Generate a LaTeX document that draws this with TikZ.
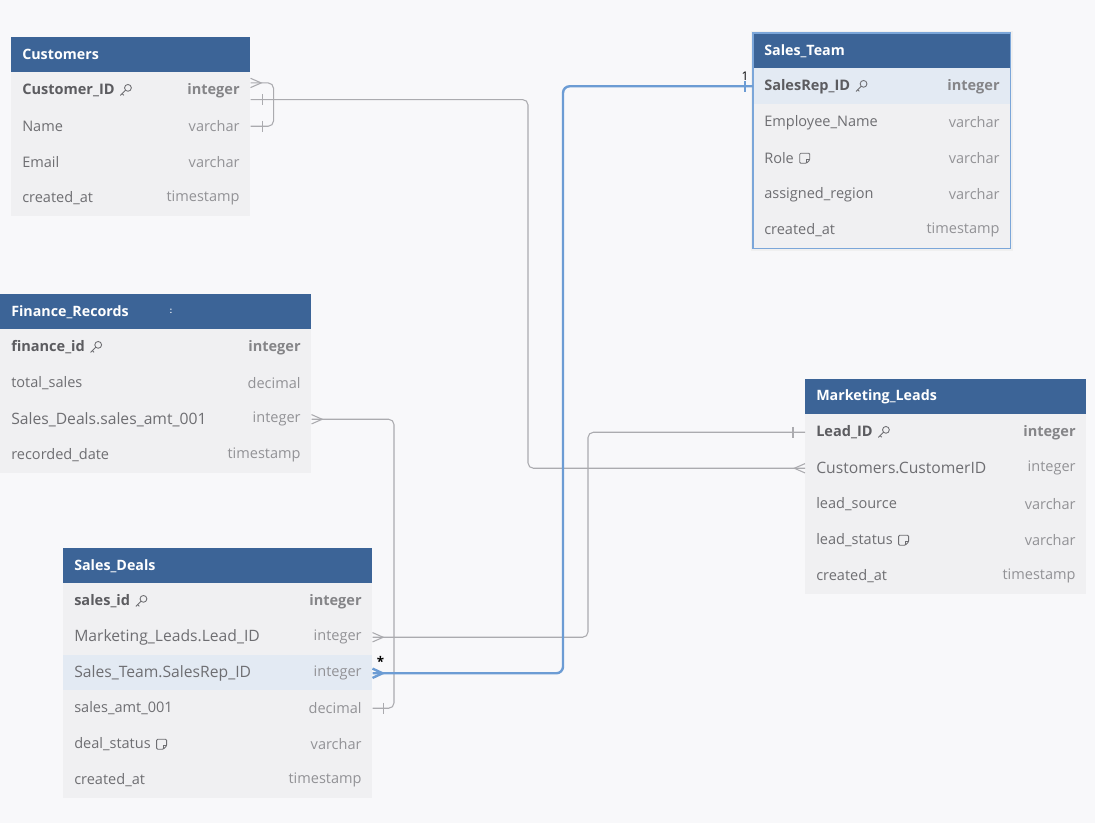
\documentclass[tikz,border=0pt]{standalone}
\usepackage{fontspec}
\setmainfont{Open Sans}
\usetikzlibrary{calc}
\definecolor{bg}{HTML}{F8F8FA}
\definecolor{hdrc}{HTML}{3C6497}
\definecolor{rowc}{HTML}{F0F0F2}
\definecolor{hlc}{HTML}{E3EAF3}
\definecolor{fldc}{HTML}{6E6E72}
\definecolor{pkc}{HTML}{5C5C60}
\definecolor{typc}{HTML}{929296}
\definecolor{linec}{HTML}{ABABAF}
\definecolor{bluec}{HTML}{6C9CD4}
\definecolor{selc}{HTML}{7BA6D9}
\tikzset{
  hdrbox/.style={fill=hdrc, draw=none, inner sep=0pt, minimum height=26.25pt},
  hdrtxt/.style={text=white, font=\fontsize{10.7}{13}\selectfont\bfseries, inner sep=0pt},
  rowbox/.style={draw=none, inner sep=0pt, minimum height=27pt},
  fld/.style={text=fldc, font=\fontsize{10.9}{12}\selectfont, inner sep=0pt},
  typ/.style={text=typc, font=\fontsize{10.9}{12}\selectfont, inner sep=0pt},
  icon/.style={draw=fldc, line width=0.65pt},
  conn/.style={draw=linec, line width=0.8pt, rounded corners=4pt},
  endmark/.style={draw=linec, line width=0.8pt},
  bconn/.style={draw=bluec, line width=1.8pt, rounded corners=5pt},
  bendmark/.style={draw=bluec, line width=1.8pt},
  keyic/.pic={\draw[icon] (2.4,-2.4) circle (3.4); \draw[icon] (0,0) -- (-5.2,5.2); \draw[icon] (-3.4,3.4) -- (-1.8,5);},
  noteic/.pic={\draw[icon, rounded corners=0.8pt] (-5,-5) -- (5,-5) -- (5,1.6) -- (1.6,5) -- (-5,5) -- cycle; \draw[icon] (5,1.6) -- (1.6,1.6) -- (1.6,5);}
}
\newcommand\tblhead[5]{%
  \node[hdrbox, minimum width=#4*0.75pt, anchor=north west] (#1) at (#2,#3) {};
  \node[hdrtxt, anchor=west] (#1t) at ([xshift=8.25pt]#1.west) {#5};}
\newcommand\tblrow[7]{%
  \node[rowbox, fill=#7, minimum width=#4*0.75pt, anchor=north west] (#1) at (#2,#3) {};
  \node[fld, anchor=west] (#1f) at ([xshift=8.25pt]#1.west) {#5};
  \node[typ, anchor=east] (#1y) at ([xshift=-8pt]#1.east) {#6};}
\newcommand\pk[1]{\textcolor{pkc}{\bfseries #1}}
\newcommand\pkt[1]{\textcolor{pkc!75}{\bfseries #1}}
\newcommand\fk[1]{{\fontsize{11.75}{14}\selectfont #1}}
\begin{document}
\begin{tikzpicture}[x=0.75pt,y=-0.75pt]
\useasboundingbox[fill=bg] (0,0) rectangle (1095,823);

% Customers
\tblhead{cust}{11}{37}{239}{Customers}
\tblrow{cust1}{11}{72}{239}{\pk{Customer\_ID}}{\pkt{integer}}{rowc}
\tblrow{cust2}{11}{108}{239}{Name}{varchar}{rowc}
\tblrow{cust3}{11}{144}{239}{Email}{varchar}{rowc}
\tblrow{cust4}{11}{180}{239}{created\_at}{timestamp}{rowc}
\pic at ([xshift=8pt]cust1f.east) {keyic};

% Sales_Team
\fill[black!6] (751,31) rectangle (1013,251);
\tblhead{st}{753}{33}{257}{Sales\_Team}
\tblrow{st1}{753}{68}{257}{\pk{SalesRep\_ID}}{\pkt{integer}}{hlc}
\tblrow{st2}{753}{104}{257}{Employee\_Name}{varchar}{rowc}
\tblrow{st3}{753}{140}{257}{Role}{varchar}{rowc}
\tblrow{st4}{753}{176}{257}{assigned\_region}{varchar}{rowc}
\tblrow{st5}{753}{212}{257}{created\_at}{timestamp}{rowc}
\draw[selc, line width=1.1pt] (st.north west) rectangle (st5.south east);
\pic at ([xshift=8pt]st1f.east) {keyic};
\pic at ([xshift=8pt]st3f.east) {noteic};

% Finance_Records
\tblhead{fin}{0}{294}{311}{Finance\_Records}
\node[text=white, font=\fontsize{6}{7}\selectfont\bfseries, inner sep=0pt] (finh) at (171,311) {:};
\tblrow{fin1}{0}{329}{311}{\pk{finance\_id}}{\pkt{integer}}{rowc}
\tblrow{fin2}{0}{365}{311}{total\_sales}{decimal}{rowc}
\tblrow{fin3}{0}{401}{311}{\fk{Sales\_Deals.sales\_amt\_001}}{integer}{rowc}
\tblrow{fin4}{0}{437}{311}{recorded\_date}{timestamp}{rowc}
\pic at ([xshift=8pt]fin1f.east) {keyic};

% Marketing_Leads
\tblhead{ml}{805}{379}{281}{Marketing\_Leads}
\tblrow{ml1}{805}{414}{281}{\pk{Lead\_ID}}{\pkt{integer}}{rowc}
\tblrow{ml2}{805}{450}{281}{\fk{Customers.CustomerID}}{integer}{rowc}
\tblrow{ml3}{805}{486}{281}{lead\_source}{varchar}{rowc}
\tblrow{ml4}{805}{522}{281}{lead\_status}{varchar}{rowc}
\tblrow{ml5}{805}{558}{281}{created\_at}{timestamp}{rowc}
\pic at ([xshift=8pt]ml1f.east) {keyic};
\pic at ([xshift=8pt]ml4f.east) {noteic};

% Sales_Deals
\tblhead{sd}{63}{548}{309}{Sales\_Deals}
\tblrow{sd1}{63}{583}{309}{\pk{sales\_id}}{\pkt{integer}}{rowc}
\tblrow{sd2}{63}{619}{309}{\fk{Marketing\_Leads.Lead\_ID}}{integer}{rowc}
\tblrow{sd3}{63}{655}{309}{\fk{Sales\_Team.SalesRep\_ID}}{integer}{hlc}
\tblrow{sd4}{63}{690}{309}{sales\_amt\_001}{decimal}{rowc}
\tblrow{sd5}{63}{726}{309}{deal\_status}{varchar}{rowc}
\tblrow{sd6}{63}{762}{309}{created\_at}{timestamp}{rowc}
\pic at ([xshift=8pt]sd1f.east) {keyic};
\pic at ([xshift=8pt]sd5f.east) {noteic};

% connector helpers
\coordinate (cA) at ([yshift=5.5pt]cust1.east);
\coordinate (cB) at ([yshift=-7pt]cust1.east);
\coordinate (xB) at (528,0);
\coordinate (xC) at (394,0);
\coordinate (xD) at (588,0);
\coordinate (xE) at (563,0);

% Customers self reference
\draw[conn] (cA) -| ([xshift=17.25pt]cust2.east) -- (cust2.east);
\draw[endmark] ([yshift=3.5pt]cA) -- ([xshift=8pt]cA) -- ([yshift=-3.5pt]cA);
\draw[endmark] ([xshift=9pt,yshift=4pt]cust2.east) -- ([xshift=9pt,yshift=-4pt]cust2.east);

% Customers -> Marketing_Leads
\draw[conn] (cB) -- (cB -| xB) |- (ml2.west);
\draw[endmark] ([xshift=9pt,yshift=4pt]cB) -- ([xshift=9pt,yshift=-4pt]cB);
\draw[endmark] ([yshift=3.5pt]ml2.west) -- ([xshift=-8pt]ml2.west) -- ([yshift=-3.5pt]ml2.west);

% Finance_Records -> Sales_Deals
\draw[conn] (fin3.east) -- (fin3.east -| xC) |- (sd4.east);
\draw[endmark] ([yshift=3.5pt]fin3.east) -- ([xshift=8pt]fin3.east) -- ([yshift=-3.5pt]fin3.east);
\draw[endmark] ([xshift=8pt,yshift=4pt]sd4.east) -- ([xshift=8pt,yshift=-4pt]sd4.east);

% Marketing_Leads -> Sales_Deals
\draw[conn] (ml1.west) -- (ml1.west -| xD) |- (sd2.east);
\draw[endmark] ([xshift=-9pt,yshift=4pt]ml1.west) -- ([xshift=-9pt,yshift=-4pt]ml1.west);
\draw[endmark] ([yshift=3.5pt]sd2.east) -- ([xshift=8pt]sd2.east) -- ([yshift=-3.5pt]sd2.east);

% Sales_Team -> Sales_Deals (selected, blue)
\draw[bconn] (st1.west) -- (st1.west -| xE) |- (sd3.east);
\draw[bendmark, line width=1.2pt] ([xshift=-6pt,yshift=4pt]st1.west) -- ([xshift=-6pt,yshift=-4pt]st1.west);
\draw[bendmark, line join=miter] ([yshift=3.5pt]sd3.east) -- ([xshift=7.5pt]sd3.east) -- ([yshift=-3.5pt]sd3.east);
\node[font=\fontsize{9}{10}\selectfont, inner sep=0pt] (one) at ([xshift=-6pt,yshift=7.5pt]st1.west) {1};
\node[font=\fontsize{10}{10}\selectfont\bfseries, inner sep=0pt] (many) at ([xshift=6pt,yshift=9pt]sd3.east) {*};
\end{tikzpicture}
\end{document}
